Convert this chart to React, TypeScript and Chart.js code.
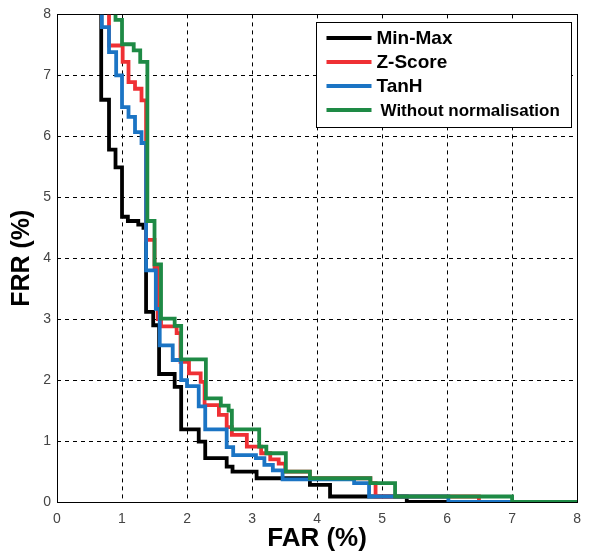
import React, { useEffect, useRef } from 'react';
import { Chart, registerables } from 'chart.js';

Chart.register(...registerables);

// ---- data (FAR %, FRR %) : each point = (FAR where the step drops, FRR after the drop)
const seriesNames = ['Min-Max', 'Z-Score', 'TanH', 'Without normalisation'];

const minMaxFAR = [0.68, 0.68, 0.80, 0.90, 1.00, 1.09, 1.25, 1.33, 1.37, 1.48, 1.57, 1.81, 1.91, 2.18, 2.28, 2.61, 2.70, 3.07, 3.89, 4.20, 5.38, 6.00];
const minMaxFRR = [8, 6.60, 5.78, 5.49, 4.68, 4.61, 4.55, 4.50, 3.12, 2.90, 2.10, 1.89, 1.19, 0.99, 0.72, 0.58, 0.50, 0.39, 0.28, 0.09, 0, 0];

const zScoreFAR = [0.80, 0.80, 1.01, 1.10, 1.20, 1.30, 1.37, 1.50, 1.55, 1.60, 1.84, 1.90, 2.03, 2.21, 2.27, 2.49, 2.61, 2.69, 2.92, 3.14, 3.28, 3.41, 3.51, 3.89, 4.82, 4.90, 6.49, 7.00];
const zScoreFRR = [8, 7.49, 7.22, 6.89, 6.78, 6.59, 4.30, 3.84, 3.00, 2.88, 2.77, 2.30, 2.11, 1.97, 1.59, 1.43, 1.23, 1.10, 0.91, 0.80, 0.70, 0.63, 0.50, 0.39, 0.31, 0.09, 0, 0];

const tanhFAR = [0.69, 0.69, 0.80, 0.91, 1.00, 1.10, 1.20, 1.30, 1.37, 1.52, 1.58, 1.78, 1.91, 2.00, 2.18, 2.28, 2.61, 2.71, 3.06, 3.19, 3.32, 3.47, 4.57, 4.80, 6.02, 7.00];
const tanhFRR = [8, 7.79, 7.38, 7.00, 6.48, 6.32, 6.07, 5.89, 3.80, 3.17, 2.57, 2.33, 2.00, 1.90, 1.57, 1.19, 0.90, 0.77, 0.72, 0.61, 0.52, 0.37, 0.31, 0.09, 0, 0];

const rawFAR = [0.90, 0.90, 1.00, 1.18, 1.28, 1.39, 1.50, 1.60, 1.81, 1.91, 2.29, 2.52, 2.64, 2.69, 3.11, 3.22, 3.52, 3.89, 4.82, 5.20, 7.00, 8.00];
const rawFRR = [8, 7.91, 7.51, 7.41, 7.22, 4.61, 3.90, 3.01, 2.89, 2.34, 1.70, 1.58, 1.50, 1.19, 0.91, 0.80, 0.50, 0.39, 0.31, 0.09, 0, 0];

const axisMin = 0;
const axisMax = 8;
const xTitle = 'FAR (%)';
const yTitle = 'FRR (%)';

// ---- styles
const seriesColors = ['#000000', '#EF3034', '#1B74C4', '#1E8A45'];
const legendFontSizes = [19, 19, 19, 17];
const FONT = '"Liberation Sans", Arial, Helvetica, sans-serif';

export default function App() {
  const ref = useRef<HTMLCanvasElement>(null);

  useEffect(() => {
    if (!ref.current) return;
    const fars = [minMaxFAR, zScoreFAR, tanhFAR, rawFAR];
    const frrs = [minMaxFRR, zScoreFRR, tanhFRR, rawFRR];

    const datasets = seriesNames.map((name, i) => ({
      label: name,
      data: fars[i].map((x, j) => ({ x, y: frrs[i][j] })),
      borderColor: seriesColors[i],
      backgroundColor: seriesColors[i],
      borderWidth: 3.8,
      pointRadius: 0,
      pointHoverRadius: 0,
      stepped: 'before' as const,
      fill: false,
      order: seriesNames.length - 1 - i,
    }));

    const framePlugin = {
      id: 'frameAndLegend',
      beforeDatasetsDraw(chart: any) {
        const { ctx, chartArea: a } = chart;
        ctx.save();
        ctx.strokeStyle = '#000';
        ctx.lineWidth = 1;
        ctx.setLineDash([]);
        ctx.strokeRect(Math.round(a.left) + 0.5, Math.round(a.top) + 0.5,
          Math.round(a.right) - Math.round(a.left), Math.round(a.bottom) - Math.round(a.top));
        ctx.restore();
      },
      afterDraw(chart: any) {
        const { ctx, chartArea: a } = chart;
        const bx = Math.round(a.left) + 259.5;
        const by = Math.round(a.top) + 8.5;
        const bw = 255;
        const bh = 105;
        ctx.save();
        ctx.setLineDash([]);
        ctx.fillStyle = '#fff';
        ctx.fillRect(bx, by, bw, bh);
        ctx.strokeStyle = '#000';
        ctx.lineWidth = 1;
        ctx.strokeRect(bx, by, bw, bh);
        seriesNames.forEach((name, i) => {
          const y = by + 15.5 + i * 24;
          ctx.strokeStyle = seriesColors[i];
          ctx.lineWidth = 4;
          ctx.beginPath();
          ctx.moveTo(bx + 10, y);
          ctx.lineTo(bx + 55, y);
          ctx.stroke();
          ctx.fillStyle = '#000';
          ctx.font = `bold ${legendFontSizes[i]}px ${FONT}`;
          ctx.textBaseline = 'middle';
          ctx.textAlign = 'left';
          ctx.fillText(name, bx + (i === 3 ? 64 : 60), y + 1);
        });
        ctx.restore();
      },
    };

    const chart = new Chart(ref.current, {
      type: 'line',
      data: { datasets },
      options: {
        animation: false,
        responsive: false,
        maintainAspectRatio: false,
        events: [],
        layout: { padding: { left: 0, top: 14, right: 3, bottom: 0 } },
        plugins: {
          legend: { display: false },
          tooltip: { enabled: false },
          title: { display: false },
        },
        scales: {
          x: {
            type: 'linear',
            min: axisMin,
            max: axisMax,
            ticks: { stepSize: 1, padding: 9, color: '#444', font: { family: FONT, size: 14 } },
            grid: { color: '#000', lineWidth: 1, drawTicks: false },
            border: { display: false, dash: [4, 4] },
            title: {
              display: true,
              text: xTitle,
              color: '#000',
              font: { family: FONT, size: 26, weight: 'bold' },
              padding: { top: 0, bottom: -2 },
            },
            afterFit: (scale: any) => { scale.height = 50; },
          },
          y: {
            type: 'linear',
            min: axisMin,
            max: axisMax,
            ticks: { stepSize: 1, padding: 6, color: '#444', font: { family: FONT, size: 14 } },
            grid: { color: '#000', lineWidth: 1, drawTicks: false },
            border: { display: false, dash: [4, 4] },
            title: {
              display: true,
              text: yTitle,
              color: '#000',
              font: { family: FONT, size: 25, weight: 'bold' },
              padding: { top: 7, bottom: 0 },
            },
            afterFit: (scale: any) => { scale.width = 57; },
          },
        },
      },
      plugins: [framePlugin],
    });
    return () => chart.destroy();
  }, []);

  return (
    <div style={{ position: 'absolute', left: 0, top: 0, width: 590, height: 552, background: '#fff' }}>
      <canvas ref={ref} width={590} height={552} style={{ display: 'block' }} />
    </div>
  );
}
